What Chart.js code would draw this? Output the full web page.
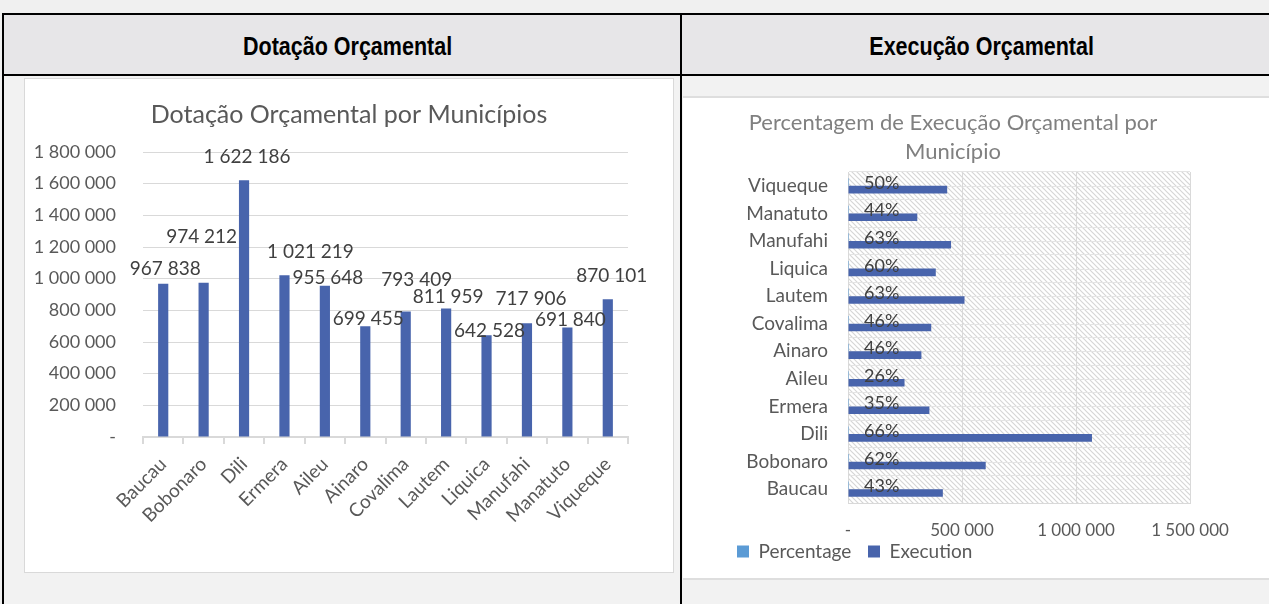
<!doctype html>
<html>
<head>
<meta charset="utf-8">
<title>Dotação e Execução Orçamental</title>
<script src="https://cdn.jsdelivr.net/npm/chart.js@4.4.0/dist/chart.umd.min.js"></script>
<style>
    body { margin:0; background:#f0f0f0; width:1269px; height:604px; overflow:hidden; position:relative; }
    .blk { position:absolute; }
    .hdr { position:absolute; top:15px; height:59px; line-height:62px; text-align:center; background:#e7e6e8;
           font-family:"Liberation Sans Narrow","Arial Narrow","Liberation Sans",sans-serif; font-weight:bold; font-size:25px; color:#000; }
    .hdr span { display:inline-block; transform:scaleX(0.86); }
    canvas { position:absolute; }
</style>
</head>
<body>
    <div class="blk" style="left:2px;top:13px;width:1300px;height:620px;background:#f2f2f2;border-left:2px solid #000;border-top:2px solid #000;"></div>
    <div class="hdr" style="left:4px;width:688px;"><span>Dotação Orçamental</span></div>
    <div class="hdr" style="left:682px;width:600px;"><span>Execução Orçamental</span></div>
    <div class="blk" style="left:2px;top:74px;width:1300px;height:2px;background:#000;"></div>
    <div class="blk" style="left:680px;top:13px;width:2px;height:600px;background:#000;"></div>
    <div class="blk" style="left:24px;top:78px;width:650px;height:495px;background:#fff;border:1px solid #d9d9d9;box-sizing:border-box;"></div>
    <div class="blk" style="left:683px;top:96px;width:600px;height:484px;background:#fff;border-top:2px solid #dedede;border-bottom:2px solid #dedede;box-sizing:border-box;"></div>
    <canvas id="dotacao" width="648" height="493" style="left:25px;top:79px;"></canvas>
    <canvas id="execucao" width="586" height="480" style="left:683px;top:98px;"></canvas>
<script>
    // dados por município
    var municipios = ['Baucau','Bobonaro','Dili','Ermera','Aileu','Ainaro','Covalima','Lautem','Liquica','Manufahi','Manatuto','Viqueque'];
    var dotacao = [967838, 974212, 1622186, 1021219, 955648, 699455, 793409, 811959, 642528, 717906, 691840, 870101];
    var percentagem = [0.43, 0.62, 0.66, 0.35, 0.26, 0.46, 0.46, 0.63, 0.60, 0.63, 0.44, 0.50];
    var execucao = [416000, 604000, 1070000, 357000, 248000, 322000, 365000, 511000, 385000, 452000, 304000, 435000];
    var dotacaoEscala = [0, 1800000, 200000];
    var execucaoEscala = [0, 1500000, 500000];

    var azul = '#4864ac', azulClaro = '#5b9bd5', cinza = '#595959';

    // label nudges as in the excel chart: [dx, lift above bar top]
    var labelShift = [[2,15],[-2,46],[3,23],[26,23],[3,8],[3,7],[11,32],[2,12],[3,4],[4,24],[3,8],[4,23]];

    function fmt(v) {
        if (v === 0) return '-';
        return String(Math.round(v)).replace(/\B(?=(\d{3})+(?!\d))/g, ' ');
    }

    var barLabels = {
        id: 'barLabels',
        afterDatasetsDraw: function(chart) {
            var ctx = chart.ctx;
            var meta = chart.getDatasetMeta(0);
            ctx.save();
            ctx.font = '19px Lato';
            ctx.fillStyle = '#404040';
            ctx.textAlign = 'center';
            ctx.textBaseline = 'middle';
            meta.data.forEach(function(el, i) {
                ctx.fillText(fmt(chart.data.datasets[0].data[i]), el.x + labelShift[i][0], el.y - labelShift[i][1]);
            });
            ctx.restore();
        }
    };

    var hatch = {
        id: 'hatch',
        beforeDraw: function(chart) {
            var a = chart.chartArea, ctx = chart.ctx;
            var s = 5, p = document.createElement('canvas');
            p.width = s; p.height = s;
            var pc = p.getContext('2d');
            pc.fillStyle = '#fff'; pc.fillRect(0, 0, s, s);
            pc.strokeStyle = '#d6d6d6'; pc.lineWidth = 1.2;
            pc.beginPath();
            pc.moveTo(-1, -1); pc.lineTo(s + 1, s + 1);
            pc.moveTo(-1, s - 1); pc.lineTo(1, s + 1);
            pc.moveTo(s - 1, -1); pc.lineTo(s + 1, 1);
            pc.stroke();
            ctx.save();
            ctx.fillStyle = ctx.createPattern(p, 'repeat');
            ctx.fillRect(a.left, a.top, a.right - a.left, a.bottom - a.top);
            // extra lines through category centres
            var ys = chart.scales.y;
            ctx.strokeStyle = '#e4e4e4'; ctx.lineWidth = 1;
            ctx.beginPath();
            chart.data.labels.forEach(function(l, i) {
                var y = Math.round(ys.getPixelForValue(i)) + 0.5;
                ctx.moveTo(a.left, y); ctx.lineTo(a.right, y);
            });
            ctx.stroke();
            ctx.restore();
        }
    };

    var pctLabels = {
        id: 'pctLabels',
        afterDatasetsDraw: function(chart) {
            var ctx = chart.ctx;
            var meta = chart.getDatasetMeta(0);
            ctx.save();
            ctx.font = '18px Lato';
            ctx.fillStyle = '#404040';
            ctx.textAlign = 'left';
            ctx.textBaseline = 'middle';
            meta.data.forEach(function(el, i) {
                ctx.fillText(Math.round(chart.data.datasets[0].data[i] * 100) + '%', el.x + 16, el.y + 1);
            });
            ctx.restore();
        }
    };

    // excel places the titles off-centre, so they are drawn here
    var sideTitle = {
        id: 'sideTitle',
        afterDraw: function(chart, args, opts) {
            var ctx = chart.ctx;
            ctx.save();
            ctx.font = opts.size + 'px Lato';
            ctx.fillStyle = opts.color;
            ctx.textAlign = 'center';
            ctx.textBaseline = 'middle';
            opts.text.forEach(function(t, i) {
                ctx.fillText(t, opts.x, opts.y + i * opts.gap);
            });
            ctx.restore();
        }
    };

    var dotacaoCfg = {
        type: 'bar',
        data: {
            labels: municipios,
            datasets: [{ label: 'Dotação', data: dotacao, backgroundColor: azul,
                         categoryPercentage: 0.6, barPercentage: 0.42 }]
        },
        options: {
            responsive: false, animation: false,
            layout: { padding: { left: 0, right: 45, top: 73, bottom: 0 } },
            plugins: {
                legend: { display: false },
                tooltip: { enabled: false },
                title: { display: false },
                sideTitle: { text: ['Dotação Orçamental por Municípios'], x: 324, y: 36, gap: 0, size: 25, color: cinza }
            },
            scales: {
                y: {
                    min: dotacaoEscala[0], max: dotacaoEscala[1],
                    ticks: { stepSize: dotacaoEscala[2], color: cinza, font: { family: 'Lato', size: 18 }, padding: 27,
                             callback: function(v) { return fmt(v); } },
                    grid: { color: '#d9d9d9', drawTicks: false },
                    border: { display: false },
                    afterFit: function(s) { s.width = 118; }
                },
                x: {
                    ticks: { color: cinza, font: { family: 'Lato', size: 19 }, minRotation: 45, maxRotation: 45, padding: 9, autoSkip: false },
                    grid: { drawOnChartArea: false, drawTicks: true, tickLength: 7, color: '#d9d9d9', lineWidth: 2 },
                    border: { color: '#d9d9d9', width: 2 },
                    afterFit: function(s) { s.height = 135; }
                }
            }
        },
        plugins: [barLabels, sideTitle]
    };

    var execucaoCfg = {
        type: 'bar',
        data: {
            labels: municipios,
            datasets: [
                { label: 'Percentage', data: percentagem, backgroundColor: azulClaro, categoryPercentage: 0.55, barPercentage: 1 },
                { label: 'Execution', data: execucao, backgroundColor: azul, categoryPercentage: 0.55, barPercentage: 1 }
            ]
        },
        options: {
            indexAxis: 'y',
            responsive: false, animation: false,
            layout: { padding: { left: 52, right: 79, top: 74, bottom: 7 } },
            plugins: {
                legend: { display: true, position: 'bottom', align: 'start',
                          labels: { boxWidth: 12, boxHeight: 12, padding: 2, color: cinza, font: { family: 'Lato', size: 19 },
                                    generateLabels: function(chart) {
                                        var items = Chart.defaults.plugins.legend.labels.generateLabels(chart);
                                        items[0].text += '   ';
                                        return items;
                                    } } },
                tooltip: { enabled: false },
                title: { display: false },
                sideTitle: { text: ['Percentagem de Execução Orçamental por', 'Município'], x: 270, y: 25, gap: 29, size: 22, color: '#808080' }
            },
            scales: {
                y: {
                    reverse: true,
                    ticks: { color: cinza, font: { family: 'Lato', size: 19 }, padding: 20, autoSkip: false },
                    grid: { color: '#e4e4e4', drawTicks: false },
                    border: { color: '#d9d9d9' },
                    afterFit: function(s) { s.width = 113; }
                },
                x: {
                    min: execucaoEscala[0], max: execucaoEscala[1],
                    ticks: { stepSize: execucaoEscala[2], color: cinza, font: { family: 'Lato', size: 17 }, padding: 17,
                             callback: function(v) { return fmt(v); } },
                    grid: { color: '#d9d9d9', drawTicks: false },
                    border: { color: '#d9d9d9' },
                    afterFit: function(s) { s.height = 37; }
                }
            }
        },
        plugins: [hatch, pctLabels, sideTitle]
    };

    window.onload = function() {
        window.chartDotacao = new Chart(document.getElementById('dotacao').getContext('2d'), dotacaoCfg);
        window.chartExecucao = new Chart(document.getElementById('execucao').getContext('2d'), execucaoCfg);
    };
</script>
</body>
</html>
